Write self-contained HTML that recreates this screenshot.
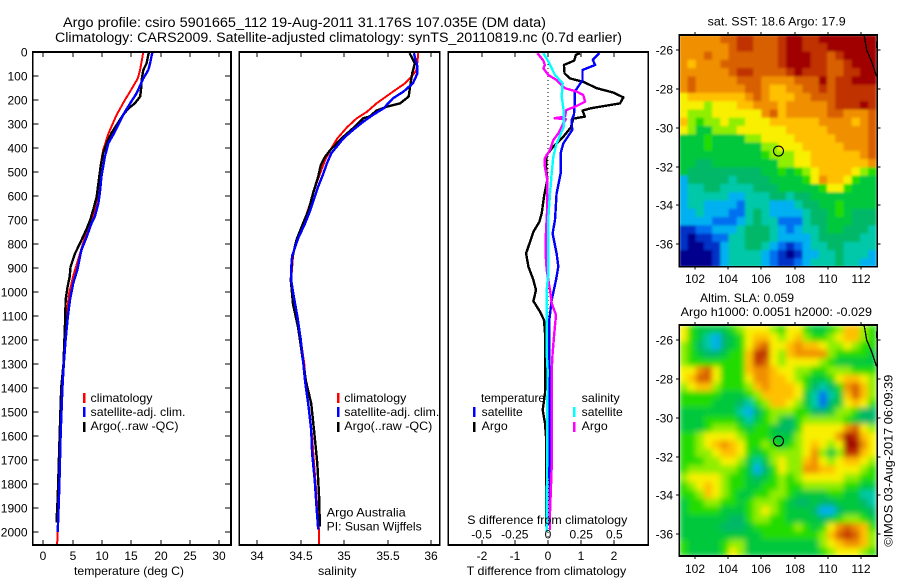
<!DOCTYPE html>
<html>
<head>
<meta charset="utf-8">
<title>Argo profile chart</title>
<style>
html,body{margin:0;padding:0;background:#fff;}
svg{display:block;}
text{font-family:"Liberation Sans",sans-serif;font-size:12px;fill:#000;}
.t{font-size:13.5px;}
</style>
</head>
<body>
<svg id="chart" width="900" height="580" viewBox="0 0 900 580" xmlns="http://www.w3.org/2000/svg">
<defs>
<filter id="blurA" filterUnits="userSpaceOnUse" x="679" y="35" width="198" height="232"><feGaussianBlur stdDeviation="1.2" edgeMode="duplicate"/></filter>
<filter id="blurB" filterUnits="userSpaceOnUse" x="679" y="325" width="198" height="232"><feGaussianBlur stdDeviation="2.8" edgeMode="duplicate"/></filter>
</defs>
<rect width="900" height="580" fill="#fff"/>
<text class="t" x="63" y="27" textLength="483" lengthAdjust="spacingAndGlyphs">Argo profile: csiro 5901665_112 19-Aug-2011 31.176S 107.035E (DM data)</text>
<text class="t" x="55" y="42" textLength="567" lengthAdjust="spacingAndGlyphs">Climatology: CARS2009. Satellite-adjusted climatology: synTS_20110819.nc (0.7d earlier)</text>

<g id="p1"></g>
<g id="p2"></g>
<g id="p3"></g>
<g id="m1"></g>
<g id="m2"></g>

<text x="74" y="575" textLength="110" lengthAdjust="spacingAndGlyphs">temperature (deg C)</text>
<text x="318" y="575" textLength="38.5" lengthAdjust="spacingAndGlyphs">salinity</text>
<text x="466.7" y="575" textLength="159.5" lengthAdjust="spacingAndGlyphs">T difference from climatology</text>
<text x="467.3" y="524" textLength="160" lengthAdjust="spacingAndGlyphs">S difference from climatology</text>

<g>
<rect x="83" y="393" width="2.5" height="10" fill="#ff0000"/>
<rect x="83" y="407" width="2.5" height="10" fill="#0000ff"/>
<rect x="83" y="422" width="2.5" height="10" fill="#000000"/>
<text x="90.5" y="402" textLength="62" lengthAdjust="spacingAndGlyphs">climatology</text>
<text x="90.5" y="416" textLength="95" lengthAdjust="spacingAndGlyphs">satellite-adj. clim.</text>
<text x="90.5" y="430" textLength="88" lengthAdjust="spacingAndGlyphs">Argo(..raw -QC)</text>
</g>
<g>
<rect x="337" y="393" width="2.5" height="10" fill="#ff0000"/>
<rect x="337" y="407" width="2.5" height="10" fill="#0000ff"/>
<rect x="337" y="422" width="2.5" height="10" fill="#000000"/>
<text x="344.3" y="402" textLength="62" lengthAdjust="spacingAndGlyphs">climatology</text>
<text x="344.3" y="416" textLength="95" lengthAdjust="spacingAndGlyphs">satellite-adj. clim.</text>
<text x="344.3" y="430" textLength="88" lengthAdjust="spacingAndGlyphs">Argo(..raw -QC)</text>
<text x="326.7" y="516.7" textLength="79" lengthAdjust="spacingAndGlyphs">Argo Australia</text>
<text x="326.7" y="530.7" textLength="95" lengthAdjust="spacingAndGlyphs">PI: Susan Wijffels</text>
</g>
<g>
<text x="481" y="402" textLength="64" lengthAdjust="spacingAndGlyphs">temperature</text>
<text x="581.7" y="402" textLength="38" lengthAdjust="spacingAndGlyphs">salinity</text>
<rect x="473" y="407" width="2.5" height="10" fill="#0000ff"/>
<rect x="473" y="422" width="2.5" height="10" fill="#000000"/>
<rect x="573" y="407" width="2.5" height="10" fill="#00ffff"/>
<rect x="573" y="422" width="2.5" height="10" fill="#ff00ff"/>
<text x="481.7" y="416" textLength="41" lengthAdjust="spacingAndGlyphs">satellite</text>
<text x="481.7" y="430" textLength="26" lengthAdjust="spacingAndGlyphs">Argo</text>
<text x="581.7" y="416" textLength="41" lengthAdjust="spacingAndGlyphs">satellite</text>
<text x="581.7" y="430" textLength="26" lengthAdjust="spacingAndGlyphs">Argo</text>
</g>

<text x="707.7" y="25.7" textLength="138" lengthAdjust="spacingAndGlyphs">sat. SST: 18.6 Argo: 17.9</text>
<text x="700" y="302" textLength="94" lengthAdjust="spacingAndGlyphs">Altim. SLA: 0.059</text>
<text x="680.7" y="316" textLength="191.3" lengthAdjust="spacingAndGlyphs">Argo h1000: 0.0051 h2000: -0.029</text>
<text transform="translate(892.7,546.7) rotate(-90)" textLength="172" lengthAdjust="spacingAndGlyphs">©IMOS 03-Aug-2017 06:09:39</text>
</svg>

<script>
// Temperature panel (deg C vs depth)
const tempClimDepth = [0,33,75,110,165,200,262,340,410,465,560,615,670,715,770,840,925,1005,1100,1200,1300,1400,1500,1600,1700,1800,1900,2000,2054];
const tempClim = [17.05,16.8,16.5,16.1,14.8,13.9,12.5,11.1,10.2,9.8,9.5,9.1,8.7,8.0,7.1,6.25,5.2,4.4,3.95,3.7,3.45,3.2,3.1,2.95,2.85,2.7,2.6,2.45,2.35];
const tempSatDepth = [0,47,75,110,172,214,262,332,380,436,520,575,630,685,715,770,825,908,964,1033,1100,1200,1300,1400,1500,1600,1700,1800,1900,2000];
const tempSat = [18.6,18.2,17.9,17.05,15.9,14.8,13.6,12.2,11.1,10.5,9.9,9.7,9.4,8.8,8.2,7.4,6.5,5.8,5.1,4.55,4.2,3.8,3.5,3.25,3.1,2.95,2.85,2.75,2.6,2.45];
const tempArgoDepth = [0,47,75,117,158,186,214,235,262,304,338,380,422,478,547,603,658,700,742,797,840,894,936,978,1033,1100,1200,1300,1400,1550,1670,1860,1960];
const tempArgo = [18.0,17.6,17.05,16.75,16.65,16.5,15.6,14.5,13.6,12.5,11.6,10.8,10.2,9.77,9.4,9.1,8.5,8.0,7.3,6.25,5.4,4.66,4.5,4.15,3.8,3.75,3.6,3.45,3.05,2.85,2.7,2.45,2.25];

// Salinity panel
const salClimDepth = [5,75,96,130,165,214,249,277,314,360,408,450,498,547,617,672,728,783,850,950,1050,1100,1200,1300,1400,1500,1600,1700,1800,1900,2000,2054];
const salClim = [35.85,35.83,35.79,35.70,35.56,35.37,35.26,35.14,35.03,34.92,34.84,34.78,34.73,34.68,34.62,34.57,34.51,34.45,34.41,34.39,34.42,34.46,34.5,34.54,34.56,34.6,34.63,34.65,34.67,34.69,34.71,34.71];
const salSatDepth = [5,61,89,130,165,193,235,262,290,325,360,422,464,506,561,603,658,714,776,850,900,950,1000,1100,1200,1300,1373,1478,1575,1672,1783,1894,1990];
const salSat = [35.80,35.84,35.84,35.79,35.68,35.56,35.45,35.33,35.22,35.10,34.99,34.85,34.80,34.76,34.70,34.66,34.61,34.55,34.47,34.40,34.39,34.39,34.41,34.46,34.5,34.53,34.55,34.59,34.62,34.63,34.66,34.68,34.70];
const salArgoDepth = [5,47,89,158,186,214,228,244,269,276,318,353,408,436,471,519,589,658,728,783,860,950,1050,1150,1250,1373,1464,1603,1714,1853,1978];
const salArgo = [35.75,35.81,35.78,35.75,35.74,35.64,35.49,35.37,35.29,35.22,35.10,34.99,34.84,34.78,34.73,34.70,34.64,34.59,34.51,34.45,34.40,34.385,34.41,34.47,34.51,34.56,34.62,34.66,34.69,34.71,34.72];

// Difference panel
const diffTArgoDepth = [5,12,36,54,89,110,124,151,169,189,214,228,235,244,269,278,314,353,394,429,478,533,603,672,707,749,839,894,950,992,1038,1082,1117,1186,1361,1422,1492,1547,1603,1894,1978];
const diffTArgo = [0.96,0.84,0.79,0.48,0.50,0.66,1.06,1.47,1.97,2.27,2.17,1.57,1.27,1.04,1.11,0.76,0.69,0.46,0.16,-0.04,-0.06,-0.02,-0.12,-0.19,-0.26,-0.44,-0.66,-0.59,-0.44,-0.36,-0.44,-0.24,-0.12,-0.08,-0.08,-0.09,-0.16,-0.09,-0.06,-0.06,-0.06];
const diffTSatDepth = [5,33,54,75,117,165,214,262,283,325,381,422,506,589,700,756,839,894,950,1033,1117,1256,1714,1992];
const diffTSat = [1.55,1.35,1.42,1.04,1.04,0.81,0.81,0.78,0.71,0.73,0.46,0.38,0.38,0.26,0.21,0.14,0.26,0.31,0.24,0.11,0.04,0.04,0.04,0.06];
const diffSSatDepth = [5,40,96,130,186,249,311,381,436,506,589,686,783,922,992,1256,1325,2000];
const diffSSat = [-0.035,0.003,0.053,0.11,0.103,0.12,0.12,0.065,0.04,0.028,0.015,0.003,0.003,0.003,-0.01,-0.01,-0.003,-0.01];
const diffSArgoDepth = [5,36,54,68,96,117,151,165,179,207,228,242,269,276,280,297,339,367,408,443,478,533,644,783,839,908,992,1047,1096,1186,1256,1325,1505,1725,1919,1992];
const diffSArgo = [-0.08,-0.035,-0.023,-0.035,0.003,0.065,0.128,0.216,0.266,0.279,0.204,0.136,0.128,0.05,0.135,0.115,0.078,0.04,0.015,-0.023,-0.023,-0.005,-0.005,-0.018,-0.018,-0.01,0.015,0.028,0.06,0.045,0.035,0.028,0.028,0.028,0.015,0.015];

// Axis tick labels
const depthTicks = [0,100,200,300,400,500,600,700,800,900,1000,1100,1200,1300,1400,1500,1600,1700,1800,1900,2000];
const tempTicks = [0,5,10,15,20,25,30];
const salTicks = [34,34.5,35,35.5,36];
const tDiffTicks = [-2,-1,0,1,2];
const sDiffTicks = [-0.5,-0.25,0,0.25,0.5];
const lonTicks = [102,104,106,108,110,112];
const latTicks = [-26,-28,-30,-32,-34,-36];

// Map data
const argoLon = [107.03];
const argoLat = [-31.2];
const coastLon = [112.2,112.36,112.66,112.96];
const coastLat = [-25.2,-26,-26.6,-27.37];
const islandLon = [112.95,112.95];
const islandLat = [-25.55,-25.9];
const mapColors = ["#00008c","#0030c8","#0070f0","#00b0f0","#00c8a8","#00b868","#00c83c","#20dc00","#90ee00","#f8f000","#ffc000","#f09000","#d86000","#c03000","#a00000"];
const sstGrid = [
[11,11,11,11,11,12,12,13,13,12,12,12,13,14,14,13,13,14,14,14,14,14,14,14],
[11,11,11,11,11,11,12,13,13,12,12,12,13,14,14,13,13,13,14,14,14,14,14,14],
[11,11,11,12,11,11,12,12,12,12,12,12,13,14,14,14,13,13,12,13,14,14,14,14],
[11,10,11,11,11,12,12,12,12,12,12,12,13,14,14,14,13,13,12,12,13,14,14,14],
[11,11,11,11,11,11,12,13,13,12,12,12,12,13,14,13,13,13,12,12,13,13,14,14],
[11,12,11,11,11,11,11,12,12,12,11,11,11,11,12,12,12,14,12,13,13,14,14,14],
[11,12,11,11,11,11,11,11,12,12,11,10,10,11,11,12,12,13,12,13,13,13,13,13],
[9,10,10,10,10,10,10,10,11,12,11,10,10,10,11,11,12,12,12,13,13,13,13,13],
[9,9,9,8,9,9,9,10,10,11,11,11,10,11,11,11,11,11,12,13,13,13,14,13],
[9,8,8,8,9,9,9,9,9,9,11,12,10,11,11,11,11,11,12,12,11,11,11,12],
[10,8,7,8,8,9,8,8,9,9,9,10,10,10,10,10,10,11,11,11,11,10,11,12],
[9,8,6,6,8,8,8,9,9,9,9,9,9,10,10,10,10,10,11,11,11,11,11,12],
[6,6,6,7,6,6,6,6,8,8,9,9,9,9,10,10,10,10,10,11,11,11,11,12],
[6,6,6,7,6,6,6,6,6,6,8,8,9,9,9,10,10,10,10,10,11,11,11,12],
[6,6,6,6,6,6,6,6,6,6,7,8,8,8,9,9,10,10,10,10,10,10,11,12],
[6,6,5,5,6,6,6,6,6,6,6,6,8,8,9,9,10,10,10,10,10,10,10,11],
[6,5,5,5,5,5,5,5,5,5,6,6,7,6,7,8,9,10,10,10,10,9,8,7],
[3,5,5,5,5,5,4,5,5,5,5,6,6,6,6,7,9,11,10,10,9,7,6,6],
[3,4,4,5,5,4,4,4,4,5,5,5,6,6,6,6,6,7,9,9,7,6,6,6],
[3,4,4,4,4,4,3,3,4,4,4,5,5,4,5,5,6,6,6,6,6,6,6,6],
[3,4,4,3,3,3,3,2,4,4,4,3,3,3,4,5,5,6,6,7,6,6,6,6],
[3,3,4,3,3,3,2,2,4,5,4,3,3,3,3,4,5,5,6,7,6,5,5,5],
[3,3,3,3,2,2,2,3,4,5,4,4,2,2,2,4,5,5,6,6,6,5,5,5],
[1,1,2,2,3,3,3,4,5,5,5,4,3,2,3,4,4,5,6,6,5,5,5,4],
[1,0,1,1,2,2,4,4,5,5,5,4,3,3,3,3,4,5,5,5,5,5,4,4],
[1,0,0,1,1,3,4,4,5,5,4,3,2,1,2,3,4,4,5,5,4,4,4,4],
[0,0,0,0,1,3,4,4,4,4,3,2,1,0,1,3,3,4,4,5,4,4,4,3],
[0,0,0,0,1,3,4,4,4,4,3,2,1,1,2,3,4,4,4,5,4,4,3,3]
];
const slaGrid = [
[9,7,6,6,6,6,7,8,9,9,9,8,7,9,9,7,6,6,7,8,10,10,8,7],
[9,7,6,4,3,5,6,7,9,10,10,9,8,9,10,8,7,7,8,9,10,10,8,7],
[8,7,5,4,3,5,6,7,9,11,12,9,9,10,11,10,10,9,8,8,9,8,7,7],
[8,7,6,5,5,6,7,7,10,13,13,9,8,10,11,11,11,11,8,7,7,7,7,6],
[8,7,7,7,7,7,7,7,10,13,12,9,8,9,9,9,9,8,7,6,6,6,6,6],
[9,9,11,12,9,7,7,7,10,11,11,10,9,9,8,8,7,7,8,8,8,7,7,7],
[9,10,12,12,9,7,7,7,9,11,11,10,10,9,8,7,6,6,7,9,10,10,9,8],
[8,9,10,10,8,7,7,7,8,10,11,10,10,10,9,7,5,4,5,7,11,12,10,8],
[7,7,7,7,7,6,6,6,7,8,10,10,10,10,9,6,4,2,4,6,10,12,10,8],
[7,7,7,7,6,6,6,5,4,7,8,10,10,9,8,6,4,2,5,6,9,10,9,7],
[6,6,6,6,6,6,6,4,3,5,7,8,8,8,7,7,5,5,6,8,8,7,5,5],
[6,6,6,7,7,7,7,6,4,6,7,8,6,5,7,8,8,8,8,8,7,6,5,5],
[6,6,6,7,8,8,8,7,6,7,7,6,5,5,7,9,9,9,9,9,11,12,9,8],
[7,7,8,9,9,9,9,8,7,7,7,6,6,6,8,9,9,9,9,11,14,13,10,9],
[7,7,8,9,10,11,10,9,7,7,8,7,6,7,8,9,10,9,8,9,14,14,11,9],
[7,7,8,8,9,10,10,9,7,6,7,8,8,8,8,9,11,8,6,8,13,13,10,9],
[7,7,7,8,8,9,9,8,6,4,6,8,9,8,8,10,11,9,8,9,10,10,9,8],
[7,8,8,8,8,8,8,7,6,3,5,7,9,8,8,11,11,10,10,9,9,9,8,7],
[8,9,9,9,9,8,7,7,6,5,6,7,8,7,8,9,9,9,9,9,8,8,7,7],
[7,8,9,10,9,8,7,7,6,6,7,7,8,7,7,8,8,8,8,8,7,7,6,6],
[7,7,8,10,9,8,7,6,6,7,7,8,8,7,6,6,6,6,7,7,6,6,4,4],
[6,7,7,8,8,7,7,6,7,8,8,8,7,6,5,5,6,5,5,6,6,6,5,4],
[6,7,7,7,7,6,6,6,7,8,9,8,7,6,6,6,5,3,3,5,6,6,6,5],
[6,6,6,6,6,6,5,5,7,8,8,7,7,6,6,6,6,5,6,7,8,8,7,6],
[6,6,6,6,6,5,5,5,6,7,7,7,7,7,8,7,6,7,9,11,12,11,10,7],
[6,6,6,6,6,6,6,6,6,6,7,7,7,7,7,7,7,8,10,12,13,12,10,8],
[7,6,6,6,6,7,8,8,6,6,6,6,6,6,6,6,6,8,9,10,11,11,10,8],
[7,6,6,6,6,7,9,8,6,6,6,6,6,6,6,6,6,7,8,9,9,9,8,7]
];

const NS = 'http://www.w3.org/2000/svg';
const TOP = 52, BOTTOM = 545;
function yDepth(d){ return TOP + 0.24 * d; }
function xTemp(v){ return 43.3 + 5.867 * v; }
function xSal(v){ return 257.3 + 87 * (v - 34); }
function xDT(v){ return 548 + 33.2 * v; }
function xDS(v){ return 548 + 132.8 * v; }
function xLon(v){ return 695.3 + 16.54 * (v - 102); }
function latY(base){ return function(v){ return base + 19.43 * (-26 - v); }; }

function el(parent, tag, attrs){
  const e = document.createElementNS(NS, tag);
  for (const k in attrs) e.setAttribute(k, attrs[k]);
  parent.appendChild(e);
  return e;
}
function tick(parent, x1, y1, x2, y2){
  const l = el(parent, 'line', {x1:x1, y1:y1, x2:x2, y2:y2, stroke:'#000', 'stroke-width':1, 'shape-rendering':'crispEdges'});
  
  
}
function label(parent, x, y, s, anchor){
  const t = el(parent, 'text', {x:x, y:y, 'text-anchor':anchor});
  t.textContent = s;
  
  
}
function frame(parent, x0, y0, x1, y1){
  const r = el(parent, 'rect', {x:x0, y:y0, width:x1-x0, height:y1-y0, fill:'none', stroke:'#000', 'stroke-width':1.6, 'shape-rendering':'crispEdges'});
  
  
}
function curve(parent, xs, ys, xf, yf, color, w, name){
  const pts = xs.map(function(v, i){ return xf(v).toFixed(1) + ',' + yf(ys[i]).toFixed(1); }).join(' ');
  const p = el(parent, 'polyline', {points:pts, fill:'none', stroke:color, 'stroke-width':w, 'stroke-linejoin':'round', 'shape-rendering':'crispEdges'});
  
  
}
function xAxis(parent, ticks, xf, x0, x1, base, fmt){
  ticks.forEach(function(v){
    const x = Math.round(xf(v));
    tick(parent, x, TOP, x, TOP + 5);
    tick(parent, x, BOTTOM, x, BOTTOM - 5);
    label(parent, x, base, fmt ? fmt(v) : String(v), 'middle');
  });
}

// Temperature panel
const p1 = document.getElementById('p1');
curve(p1, tempClim, tempClimDepth, xTemp, yDepth, '#ff0000', 2, 'climatology-temperature-line');
curve(p1, tempArgo, tempArgoDepth, xTemp, yDepth, '#000000', 2.4, 'argo-temperature-line');
curve(p1, tempSat, tempSatDepth, xTemp, yDepth, '#0000ff', 2.4, 'satellite-temperature-line');
frame(p1, 32.7, TOP, 231, BOTTOM);
xAxis(p1, tempTicks, xTemp, 32.7, 231, 560);
depthTicks.forEach(function(d){
  const y = Math.round(yDepth(d));
  tick(p1, 32.7, y, 38.7, y);
  tick(p1, 231, y, 225, y);
  label(p1, 27.5, y + 4.5, String(d), 'end');
});

// Salinity panel
const p2 = document.getElementById('p2');
curve(p2, salClim, salClimDepth, xSal, yDepth, '#ff0000', 2, 'climatology-salinity-line');
curve(p2, salArgo, salArgoDepth, xSal, yDepth, '#000000', 2.4, 'argo-salinity-line');
curve(p2, salSat, salSatDepth, xSal, yDepth, '#0000ff', 2.4, 'satellite-salinity-line');
frame(p2, 239.3, TOP, 439.7, BOTTOM);
xAxis(p2, salTicks, xSal, 239.3, 439.7, 560);

// Difference panel
const p3 = document.getElementById('p3');
const zero = el(p3, 'line', {x1:xDT(0), y1:TOP, x2:xDT(0), y2:BOTTOM, stroke:'#000', 'stroke-width':1, 'stroke-dasharray':'1 3', 'shape-rendering':'crispEdges'});


curve(p3, diffTArgo, diffTArgoDepth, xDT, yDepth, '#000000', 2.4, 'argo-t-difference-line');
curve(p3, diffTSat, diffTSatDepth, xDT, yDepth, '#0000ff', 2.4, 'satellite-t-difference-line');
curve(p3, diffSArgo, diffSArgoDepth, xDS, yDepth, '#ff00ff', 2.4, 'argo-s-difference-line');
curve(p3, diffSSat, diffSSatDepth, xDS, yDepth, '#00ffff', 2.4, 'satellite-s-difference-line');
frame(p3, 448.3, TOP, 648.3, BOTTOM);
xAxis(p3, tDiffTicks, xDT, 448.3, 648.3, 560);
sDiffTicks.forEach(function(v){
  label(p3, xDS(v), 538.3, String(v), 'middle');
});

// Maps
function drawMap(groupId, grid, filterId, yBase, yTop, yBot, tickBase, cellName){
  const g = document.getElementById(groupId);
  const yLat = latY(yBase);
  const cells = el(g, 'g', {filter:'url(#' + filterId + ')'});
  
  
  const left = 679.3, right = 876.3;
  const cw = (right - left) / grid[0].length;
  const ch = (yBot - yTop) / grid.length;
  grid.forEach(function(row, r){
    row.forEach(function(v, c){
      const cell = el(cells, 'rect', {x:(left + c * cw).toFixed(2), y:(yTop + r * ch).toFixed(2), width:(cw + 0.5).toFixed(2), height:(ch + 0.5).toFixed(2), fill:mapColors[Math.max(0, Math.min(mapColors.length - 1, Math.round(v)))]});
      
      
    });
  });
  curve(g, coastLon, coastLat, xLon, yLat, '#000000', 1.3, 'coastline');
  curve(g, islandLon, islandLat, xLon, yLat, '#000000', 1.3, 'coastline-island');
  const marker = el(g, 'circle', {cx:xLon(argoLon[0]), cy:yLat(argoLat[0]), r:5, fill:'none', stroke:'#000', 'stroke-width':1.1});
  
  
  frame(g, 679.3, yTop, 877.3, yBot);
  lonTicks.forEach(function(v){
    const x = Math.round(xLon(v));
    tick(g, x, yTop, x, yTop - 3);
    tick(g, x, yBot, x, yBot + 3);
    label(g, x, tickBase, String(v), 'middle');
  });
  latTicks.forEach(function(v){
    const y = Math.round(yLat(v));
    tick(g, 679.3, y, 676, y);
    tick(g, 877.3, y, 880.5, y);
    label(g, 673, y + 4.5, String(v), 'end');
  });
}
drawMap('m1', sstGrid, 'blurA', 50, 35, 266.7, 283, 'sst-cell');
drawMap('m2', slaGrid, 'blurB', 340, 325, 556, 573, 'sla-cell');
</script>
</body>
</html>
